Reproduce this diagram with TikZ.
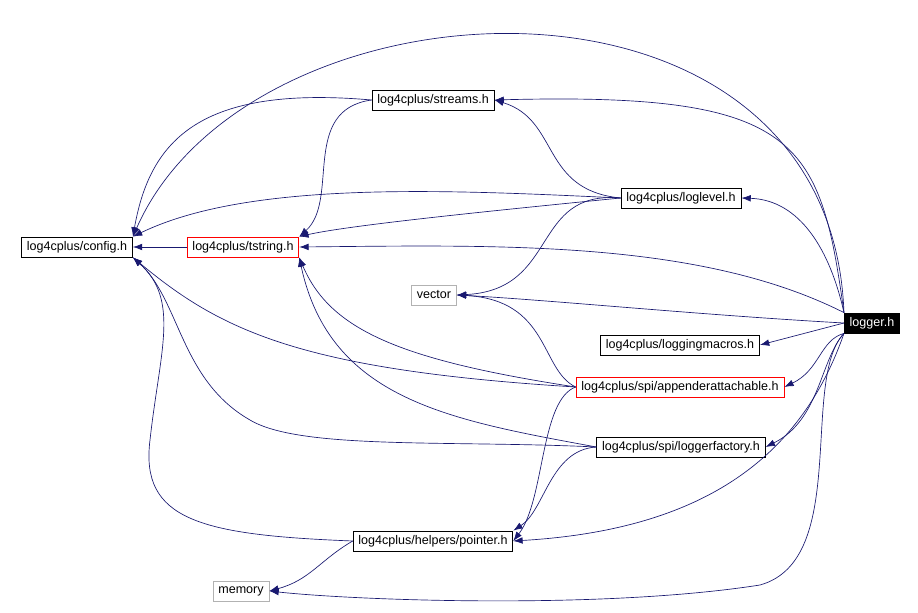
\documentclass[tikz,border=0pt]{standalone}
\usepackage{fontspec}
\setmainfont{Liberation Sans}
\usetikzlibrary{arrows.meta}
\definecolor{edgeblue}{RGB}{25,25,112}
\tikzset{
  hdr/.style={rectangle, minimum height=15pt, inner xsep=4pt, inner ysep=1pt, line width=0.6pt, font=\fontsize{9.4}{10}\selectfont},
  blkhdr/.style={hdr, draw=black},
  redhdr/.style={hdr, draw=red},
  syshdr/.style={hdr, draw=gray!60},
  dep/.style={-{Latex[length=7pt,width=5pt]}, draw=edgeblue, line width=0.5pt}
}
\begin{document}
\begin{tikzpicture}[x=0.75pt, y=-0.75pt]
  \useasboundingbox (0,0) rectangle (918,613);
  % files
  \node[blkhdr, fill=black, text=white] (logger) at (872,323) {logger.h};
  \node[blkhdr] (config) at (77,247) {log4cplus/config.h};
  \node[redhdr] (tstring) at (243,247) {log4cplus/tstring.h};
  \node[blkhdr] (streams) at (433,100) {log4cplus/streams.h};
  \node[blkhdr] (loglevel) at (681,198) {log4cplus/loglevel.h};
  \node[syshdr] (vector) at (434,295) {vector};
  \node[blkhdr] (macros) at (680,345) {log4cplus/loggingmacros.h};
  \node[redhdr] (appender) at (680,387) {log4cplus/spi/appenderattachable.h};
  \node[blkhdr] (factory) at (681,447) {log4cplus/spi/loggerfactory.h};
  \node[blkhdr] (pointer) at (433,541) {log4cplus/helpers/pointer.h};
  \node[syshdr] (memory) at (241,591) {memory};
  % logger.h
  \draw[dep] (logger.north west) .. controls (830,-60) and (250,-30) .. (config.north east);
  \draw[dep] (logger.north west) .. controls (820,140) and (800,92) .. (streams.east);
  \draw[dep] (logger.north west) .. controls (830,250) and (800,200) .. (loglevel.east);
  \draw[dep] (logger.north west) .. controls (700,240) and (500,245) .. (tstring.east);
  \draw[dep] (logger.west) .. controls (700,315) and (550,300) .. (vector.east);
  \draw[dep] (logger.west) -- (macros.east);
  \draw[dep] (logger.south west) .. controls (820,340) and (820,370) .. (appender.east);
  \draw[dep] (logger.south west) .. controls (820,360) and (820,420) .. (factory.east);
  \draw[dep] (logger.south west) .. controls (800,460) and (700,530) .. (pointer.east);
  \draw[dep] (logger.south west) .. controls (800,380) and (850,560) .. (760,585) .. controls (600,610) and (350,600) .. (memory.east);
  % streams.h
  \draw[dep] (streams.west) .. controls (200,85) and (150,140) .. (config.north east);
  \draw[dep] (streams.west) .. controls (300,110) and (340,200) .. (tstring.north east);
  % loglevel.h
  \draw[dep] (loglevel.west) .. controls (540,190) and (560,120) .. (streams.east);
  \draw[dep] (loglevel.west) .. controls (450,190) and (250,180) .. (config.north east);
  \draw[dep] (loglevel.west) .. controls (500,210) and (350,225) .. (tstring.north east);
  \draw[dep] (loglevel.west) .. controls (530,190) and (560,290) .. (vector.east);
  % tstring.h
  \draw[dep] (tstring) -- (config);
  % appenderattachable.h
  \draw[dep] (appender.west) .. controls (300,370) and (220,330) .. (config.south east);
  \draw[dep] (appender.west) .. controls (400,360) and (330,330) .. (tstring.south east);
  \draw[dep] (appender.west) .. controls (540,370) and (550,300) .. (vector.east);
  \draw[dep] (appender.west) .. controls (540,400) and (545,500) .. (pointer.east);
  % loggerfactory.h
  \draw[dep] (factory.west) .. controls (450,440) and (300,450) .. (250,420) .. controls (180,380) and (180,300) .. (config.south east);
  \draw[dep] (factory.west) .. controls (450,420) and (330,400) .. (tstring.south east);
  \draw[dep] (factory.west) .. controls (550,450) and (545,510) .. (pointer.north east);
  % pointer.h
  \draw[dep] (pointer.west) .. controls (200,535) and (140,520) .. (150,440) .. controls (160,350) and (180,300) .. (config.south east);
  \draw[dep] (pointer.west) .. controls (320,560) and (310,580) .. (memory.east);
\end{tikzpicture}
\end{document}
